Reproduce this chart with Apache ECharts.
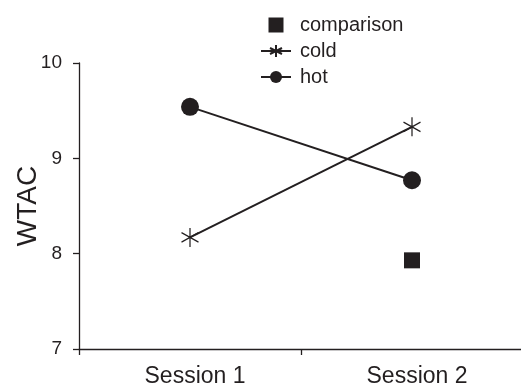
<!DOCTYPE html>
<html>
<head>
<meta charset="utf-8">
<script src="https://cdn.jsdelivr.net/npm/echarts@6/dist/echarts.min.js"></script>
<style>
  html, body { margin: 0; padding: 0; background: #fff; }
  #chart { width: 521px; height: 386px; }
</style>
</head>
<body>
<div id="chart"></div>
<script>
var sessions = ['Session 1', 'Session 2']
var hotValues = [9.54, 8.77]
var coldValues = [8.17, 9.33]
var comparisonValues = [null, 7.93]

var ink = '#231f20'
var font = 'Liberation Sans, Arial, Helvetica, sans-serif'
var starPath = 'path://M8 0 L8 16 M1 4 L15 12 M1 12 L15 4'
var squarePath = 'path://M0 0 L10 0 L10 10 L0 10 Z'

var chart = echarts.init(document.getElementById('chart'))
chart.setOption({
	animation: false,
	backgroundColor: '#fff',
	textStyle: { fontFamily: font, color: ink },
	grid: { left: 79, right: -2, top: 63, bottom: 37, containLabel: false, outerBoundsMode: 'none' },
	legend: {
		orient: 'vertical',
		left: 255,
		top: 10,
		itemWidth: 30,
		itemHeight: 15,
		itemGap: 6,
		selectedMode: false,
		textStyle: { fontSize: 20, color: ink, fontFamily: font, padding: [0, 0, 0, 4] },
		data: [
			{ name: 'comparison', icon: squarePath, itemStyle: { color: ink, opacity: 1 } },
			{ name: 'cold' },
			{ name: 'hot' }
		]
	},
	xAxis: {
		type: 'category',
		data: sessions,
		boundaryGap: true,
		axisLine: { lineStyle: { color: ink, width: 1.3 } },
		axisTick: { show: true, length: 6, lineStyle: { color: ink, width: 1.3 } },
		axisLabel: { fontSize: 23, color: ink, fontFamily: font, margin: 16, padding: [0, 0, 0, 10] },
		splitLine: { show: false }
	},
	yAxis: {
		type: 'value',
		min: 7,
		max: 10,
		interval: 1,
		name: 'WTAC',
		nameLocation: 'middle',
		nameGap: 37,
		nameMoveOverlap: false,
		nameRotate: 90,
		nameTextStyle: { fontSize: 28, color: ink, fontFamily: font },
		axisLine: { show: true, lineStyle: { color: ink, width: 1.3 } },
		axisTick: { show: true, length: 6, lineStyle: { color: ink, width: 1.3 } },
		axisLabel: { fontSize: 19, color: ink, fontFamily: font, margin: 17 },
		splitLine: { show: false }
	},
	series: [
		{
			name: 'comparison',
			type: 'scatter',
			data: comparisonValues,
			symbol: 'rect',
			symbolSize: 16,
			itemStyle: { color: ink, opacity: 1 }
		},
		{
			name: 'cold',
			type: 'line',
			data: coldValues,
			symbol: starPath,
			symbolSize: [17, 19],
			showAllSymbol: true,
			lineStyle: { color: ink, width: 2 },
			itemStyle: { color: ink, borderColor: ink, borderWidth: 1.3 }
		},
		{
			name: 'hot',
			type: 'line',
			data: hotValues,
			symbol: 'circle',
			symbolSize: 18,
			lineStyle: { color: ink, width: 2 },
			itemStyle: { color: ink }
		}
	]
})
</script>
</body>
</html>
